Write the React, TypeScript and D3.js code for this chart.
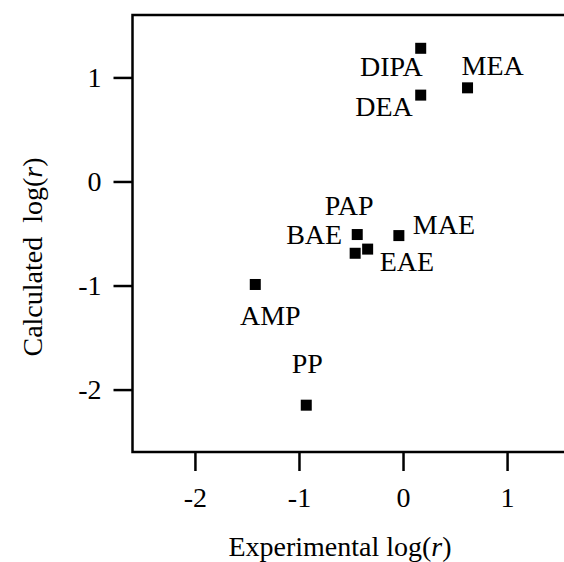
import React, { useEffect, useRef } from 'react'
import * as d3 from 'd3'

// amine names and their log(r) values
const names = ['DIPA', 'DEA', 'MEA', 'PAP', 'BAE', 'EAE', 'MAE', 'AMP', 'PP']
const experimental = [0.17, 0.17, 0.62, -0.44, -0.46, -0.34, -0.04, -1.42, -0.93]
const calculated = [1.28, 0.83, 0.9, -0.51, -0.69, -0.65, -0.52, -0.99, -2.15]
const xTicks = [-2, -1, 0, 1]
const yTicks = [-2, -1, 0, 1]

// where each label sits relative to its square
const labelPlace: Record<string, [number, number, string]> = {
  DIPA: [2, 28, 'end'],
  DEA: [-8, 21, 'end'],
  MEA: [-6, -13, 'start'],
  PAP: [-8, -20, 'middle'],
  BAE: [-13, -9, 'end'],
  EAE: [12, 22, 'start'],
  MAE: [14, -2, 'start'],
  AMP: [15, 41, 'middle'],
  PP: [1, -32, 'middle'],
}

const FONT = '"Liberation Serif", "Times New Roman", serif'
const FS = 28

export default function App() {
  const ref = useRef<SVGSVGElement>(null)

  useEffect(() => {
    const svg = d3.select(ref.current)
    svg.selectAll('*').remove()

    const left = 132.5, top = 15, size = 437
    const x = d3.scaleLinear().domain([-2.6, 1.6]).range([left, left + size])
    const y = d3.scaleLinear().domain([-2.6, 1.6]).range([top + size, top])

    // frame
    svg.append('rect')
      .attr('x', left).attr('y', top)
      .attr('width', size).attr('height', size)
      .attr('fill', 'none').attr('stroke', '#000').attr('stroke-width', 2.5)

    const xAxis = d3.axisBottom(x).tickValues(xTicks).tickSize(19).tickPadding(11)
      .tickFormat(d => String(d))
    const yAxis = d3.axisLeft(y).tickValues(yTicks).tickSize(19).tickPadding(12)
      .tickFormat(d => String(d))

    const gx = svg.append('g').attr('transform', `translate(0,${top + size})`).call(xAxis)
    const gy = svg.append('g').attr('transform', `translate(${left},0)`).call(yAxis)
    for (const g of [gx, gy]) {
      g.select('.domain').remove()
      g.selectAll('line').attr('stroke', '#000').attr('stroke-width', 2.5)
      g.selectAll('text')
        .attr('font-family', FONT).attr('font-size', FS).attr('fill', '#000')
    }
    gx.selectAll('text').attr('dy', '0.9em')

    const pts = names.map((n, i) => ({ n, ex: experimental[i], ca: calculated[i] }))

    svg.append('g').selectAll('rect')
      .data(pts).enter().append('rect')
      .attr('x', d => x(d.ex) - 5.5)
      .attr('y', d => y(d.ca) - 5.5)
      .attr('width', 11).attr('height', 11)
      .attr('fill', '#000')

    svg.append('g').selectAll('text')
      .data(pts).enter().append('text')
      .attr('x', d => x(d.ex) + labelPlace[d.n][0])
      .attr('y', d => y(d.ca) + labelPlace[d.n][1])
      .attr('text-anchor', d => labelPlace[d.n][2])
      .attr('font-family', FONT).attr('font-size', FS).attr('fill', '#000')
      .text(d => d.n)

    // axis titles
    const xt = svg.append('text')
      .attr('x', 340).attr('y', 556)
      .attr('text-anchor', 'middle')
      .attr('font-family', FONT).attr('font-size', FS)
    xt.append('tspan').text('Experimental log(')
    xt.append('tspan').attr('font-style', 'italic').text('r')
    xt.append('tspan').text(')')

    const yt = svg.append('text')
      .attr('transform', 'translate(42,257) rotate(-90)')
      .attr('text-anchor', 'middle')
      .attr('font-family', FONT).attr('font-size', FS)
      .attr('xml:space', 'preserve')
    yt.append('tspan').text('Calculated  log(')
    yt.append('tspan').attr('font-style', 'italic').text('r')
    yt.append('tspan').text(')')
  }, [])

  return (
    <svg ref={ref} width={564} height={562}
      style={{ position: 'absolute', left: 0, top: 0, background: '#fff' }} />
  )
}
